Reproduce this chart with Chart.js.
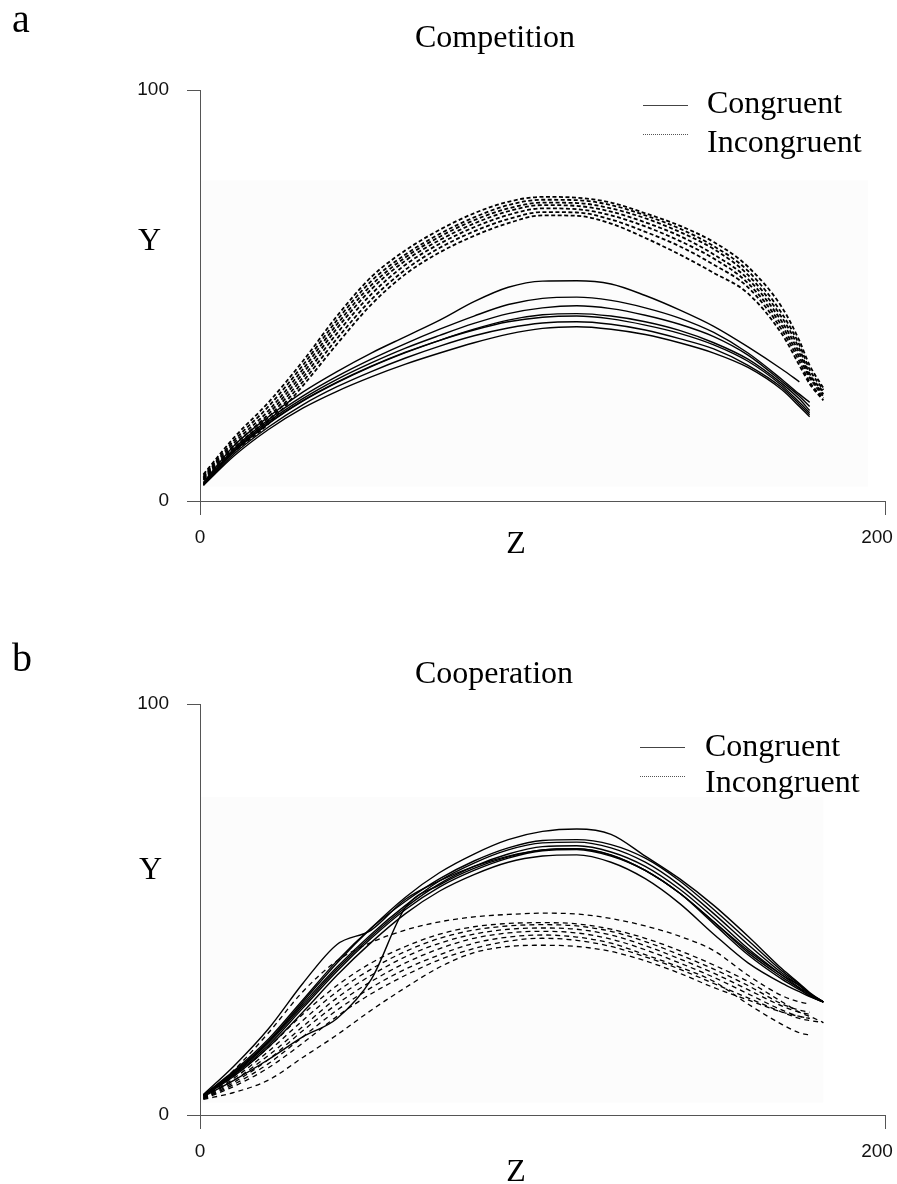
<!DOCTYPE html>
<html><head><meta charset="utf-8">
<script src="https://cdn.jsdelivr.net/npm/chart.js@4.4.1/dist/chart.umd.min.js"></script>
<style>
html,body{margin:0;padding:0;background:#fff;width:897px;height:1184px;overflow:hidden;position:relative}
canvas{position:absolute;left:0}
.t{position:absolute;font-family:"Liberation Serif","Times New Roman",serif;color:#000;line-height:1;white-space:nowrap}
.c{transform:translateX(-50%)}
.ls{position:absolute;height:0;width:45px;border-top:1px solid #444}
.ld{position:absolute;height:0;width:45px;border-top:1px dotted #555}
</style></head><body>
<canvas id="c1" width="897" height="570" style="top:0"></canvas>
<canvas id="c2" width="897" height="570" style="top:614px"></canvas>

<div class="t" style="left:12px;top:-1px;font-size:40px">a</div>
<div class="t c" style="left:495px;top:20px;font-size:32px">Competition</div>
<div class="t" style="left:138px;top:223px;font-size:32px">Y</div>
<div class="t c" style="left:516px;top:526px;font-size:32px">Z</div>
<div class="ls" style="left:643px;top:105px"></div>
<div class="ld" style="left:643px;top:134px"></div>
<div class="t" style="left:707px;top:86px;font-size:32px">Congruent</div>
<div class="t" style="left:707px;top:125px;font-size:32px">Incongruent</div>

<div class="t" style="left:12px;top:638px;font-size:40px">b</div>
<div class="t c" style="left:494px;top:656px;font-size:32px">Cooperation</div>
<div class="t" style="left:139px;top:852px;font-size:32px">Y</div>
<div class="t c" style="left:516px;top:1154px;font-size:32px">Z</div>
<div class="ls" style="left:640px;top:747px"></div>
<div class="ld" style="left:640px;top:776px"></div>
<div class="t" style="left:705px;top:729px;font-size:32px">Congruent</div>
<div class="t" style="left:705px;top:765px;font-size:32px">Incongruent</div>

<script>
// ---- data ----
const zValues = [1, 10, 20, 30, 40, 50, 60, 70, 80, 90, 100, 110, 120, 130, 140, 150, 160, 170, 175, 178, 182];
const xTickValues = [0, 200];
const xTickLabels = ['0', '200'];
const yTickValues = [0, 100];
const yTickLabels = ['0', '100'];

const competitionCongruent = [
  [4.5, 13.5, 20.5, 26.5, 31.5, 36, 40, 44, 48.5, 52, 53.5, 53.6, 52.8, 50, 46.5, 42.5, 37.5, 32, 29, null, null],
  [4.3, 12.8, 19.8, 25.5, 30.3, 34.5, 38.3, 41.8, 45, 47.8, 49.3, 49.6, 48.8, 47, 44.5, 41, 36, 29.5, 26, 24, null],
  [4.2, 12.4, 19.3, 24.9, 29.6, 33.6, 37.2, 40.3, 43.2, 45.6, 47, 47.5, 46.8, 45.2, 43, 40, 35.5, 29, 25.5, 23, null],
  [4, 12, 18.8, 24.3, 28.8, 32.7, 36.1, 39.1, 41.8, 44, 45.3, 45.6, 45, 43.6, 41.5, 38.5, 34.5, 28.5, 24.8, 22, null],
  [4.1, 12.1, 18.9, 24.4, 28.9, 32.8, 36.2, 39.1, 41.6, 43.6, 44.7, 45, 44.3, 42.8, 40.8, 38, 34, 28, 24, 21.5, null],
  [3.9, 11.5, 18, 23.4, 27.8, 31.5, 34.8, 37.7, 40.2, 42.1, 43.3, 43.6, 43, 41.6, 39.5, 37, 33, 27.5, 23.5, 21, null],
  [3.8, 11, 17.4, 22.6, 26.7, 30.2, 33.3, 36, 38.5, 40.6, 42, 42.4, 41.8, 40.5, 38.5, 36, 32.5, 27, 23, 20.5, null]
];
const competitionIncongruent = [
  [6.5, 15.5, 24, 34, 45, 54.5, 61, 66, 70, 72.8, 74, 73.8, 72.6, 70, 67, 63, 57, 47, 39, 33, 27.5],
  [6.2, 14.8, 23, 33, 44, 53.5, 60, 65, 69, 72, 73.3, 73.2, 72, 69.5, 66.3, 62, 56, 45.5, 38, 32, 27],
  [5.9, 14.2, 22, 32, 43, 52.5, 59.3, 64.3, 68.3, 71.2, 72.6, 72.5, 71.2, 68.8, 65.5, 61.3, 55, 44.5, 37, 31, 26.5],
  [5.7, 13.6, 21.2, 31, 42, 51.5, 58.5, 63.5, 67.5, 70.5, 72, 71.8, 70.4, 67.8, 64.5, 60, 54, 43.5, 36, 30.5, 26],
  [5.5, 13, 20.4, 30, 40.8, 50.3, 57.5, 62.6, 66.6, 69.6, 71.2, 71, 69.5, 66.8, 63.3, 59, 53, 42.5, 35, 30, 25.5],
  [5.3, 12.5, 19.6, 29, 39.5, 49, 56.3, 61.6, 65.6, 68.6, 70.3, 70.2, 68.5, 65.5, 62, 57.5, 52, 41.5, 34, 29, 25],
  [5.1, 12, 18.8, 28, 38.2, 47.8, 55.2, 60.5, 64.5, 67.6, 69.5, 69.4, 67.5, 64, 60, 55.5, 50.5, 40.5, 33, 28.5, 24.5]
];
const cooperationCongruent = [
  [4.8, 10.5, 18, 27.5, 37, 45.5, 53, 59, 63.5, 67, 69, 69.6, 68.3, 63, 57.5, 51, 43.5, 35.5, 32, 29.8, 27.5],
  [5, 12, 21, 32, 41.5, 45, 52.5, 57, 60.5, 63, 64.5, 64.8, 63.2, 59.5, 54, 47, 40, 34, 31.5, 29.5, 27.5],
  [4.8, 10.2, 17.8, 27, 36, 44, 51, 57, 61.3, 64.5, 66.2, 66.4, 65, 61.5, 56, 49, 41.5, 34.5, 31.5, 29.5, 27.5],
  [4.7, 10, 17.5, 26.5, 35.5, 43.5, 50.5, 56.3, 60.5, 63.5, 65.3, 65.5, 64, 60.5, 55, 48, 40.5, 34, 31, 29.3, 27.5],
  [4.7, 9.8, 17, 26, 35, 43, 50, 55.5, 59.5, 62.5, 64.3, 64.6, 63, 59.5, 54, 47, 39.5, 33.5, 30.8, 29, 27.5],
  [4.6, 9.5, 16.5, 25, 34, 42, 49, 54.5, 58.5, 61.5, 63, 63.3, 61.5, 57.5, 51.5, 44, 37, 32, 30, 28.8, 27.5],
  [4.5, 8.5, 13.5, 19, 23.5, 33, 50.5, 56, 60, 62.8, 64.5, 64.8, 63.3, 59.5, 54, 46.5, 39, 33, 30.5, 29, 27.5],
  [4.9, 10.8, 18.5, 28, 37.5, 45.5, 52, 57.5, 61.8, 65, 66.8, 67, 65.8, 62.5, 57, 50, 42.5, 35, 31.8, 29.6, 27.5]
];
const cooperationIncongruent = [
  [4.5, 11, 20, 30, 37.5, 42, 45, 47, 48.2, 48.8, 49.1, 48.9, 47.8, 46, 43.5, 40, 34, 29, 27.5, 27, null],
  [4.3, 9.5, 16.5, 24.5, 31.5, 37, 41, 44, 45.8, 46.6, 46.8, 46.5, 45.2, 43, 40, 36.5, 32.5, 27.5, 25, 24, 22.5],
  [4.2, 9, 15.5, 23, 30, 35.5, 39.8, 43, 45, 46, 46.3, 46, 44.7, 42.2, 39, 35.5, 31.5, 27, 25.5, 25, null],
  [4.1, 8.5, 14.5, 21.5, 28.5, 34, 38.5, 41.8, 44, 45.2, 45.5, 45.2, 43.8, 41.2, 38, 34.5, 30.5, 26.5, 25, 24.5, null],
  [4, 8, 13.5, 20.5, 27, 32.5, 37, 40.5, 43, 44.3, 44.7, 44.3, 42.8, 40.2, 37, 33.5, 29.5, 25.5, 24, 23.5, null],
  [4, 7.5, 12.5, 19, 25.5, 31, 35.5, 39, 41.8, 43.3, 43.8, 43.3, 41.8, 39, 36, 32.5, 27, 22, 20, 19.5, null],
  [3.9, 7, 11.5, 17.5, 24, 29.5, 34, 37.8, 40.5, 42.3, 43, 42.5, 41, 38.5, 35.5, 32, 28.5, 25, 23.5, 23, 22.5],
  [3.8, 5.5, 8.5, 14, 19.5, 25.5, 31, 36, 39.5, 41, 41.3, 41, 39.8, 37.5, 34.5, 31, 28, 25, 24, 23.5, null]
];

// faint scanned background patch, in data units
const competitionPatch = {x0: 0.3, x1: 195, y0: 3.5, y1: 78};
const cooperationPatch = {x0: 0.3, x1: 182, y0: 3, y1: 77.4};

// ---- rendering ----
function toPoints(vals) {
  const pts = [];
  vals.forEach((v, i) => { if (v !== null) pts.push({x: zValues[i], y: v}); });
  return pts;
}

const patchPlugin = {
  id: 'patch',
  beforeDatasetsDraw(chart, args, opts) {
    if (!opts || opts.x0 === undefined) return;
    const xs = chart.scales.x, ys = chart.scales.y, ctx = chart.ctx;
    const l = xs.getPixelForValue(opts.x0), r = xs.getPixelForValue(opts.x1);
    const t = ys.getPixelForValue(opts.y1), b = ys.getPixelForValue(opts.y0);
    ctx.save(); ctx.fillStyle = '#fcfcfc'; ctx.fillRect(l, t, r - l, b - t); ctx.restore();
  }
};

const tickFont = {family: '"Liberation Sans", Arial, sans-serif', size: 19};

function makeChart(id, congruent, incongruent, dash, dashWidth, patch) {
  const datasets = [];
  congruent.forEach((vals, i) => datasets.push({
    label: 'Congruent ' + (i + 1), data: toPoints(vals), showLine: true,
    borderColor: '#000', borderWidth: 1.4, pointRadius: 0, cubicInterpolationMode: 'monotone', fill: false
  }));
  incongruent.forEach((vals, i) => datasets.push({
    label: 'Incongruent ' + (i + 1), data: toPoints(vals), showLine: true,
    borderColor: '#000', borderWidth: dashWidth, borderDash: dash, pointRadius: 0, cubicInterpolationMode: 'monotone', fill: false
  }));
  return new Chart(document.getElementById(id), {
    type: 'scatter',
    data: {datasets},
    plugins: [patchPlugin],
    options: {
      responsive: false, animation: false, devicePixelRatio: 1,
      layout: {padding: {left: 0, top: 90, right: 12, bottom: 19}},
      plugins: {legend: {display: false}, tooltip: {enabled: false}, patch: patch},
      scales: {
        x: {
          type: 'linear', min: 0, max: 200,
          afterBuildTicks: s => { s.ticks = xTickValues.map(v => ({value: v})); },
          afterFit: s => { s.height = 50; s.paddingLeft = 0; s.paddingRight = 0; },
          grid: {display: true, drawOnChartArea: false, drawTicks: true, tickLength: 14, color: '#555', lineWidth: 1},
          border: {display: true, color: '#555', width: 1},
          ticks: {color: '#111', font: tickFont, padding: 11, maxRotation: 0, autoSkip: false,
            callback: (v, i) => xTickLabels[i] + (i === xTickLabels.length - 1 ? '   ' : '')}
        },
        y: {
          type: 'linear', min: 0, max: 100,
          afterBuildTicks: s => { s.ticks = yTickValues.map(v => ({value: v})); },
          afterFit: s => { s.width = 200; s.paddingTop = 0; s.paddingBottom = 0; },
          grid: {display: true, drawOnChartArea: false, drawTicks: true, tickLength: 13, color: '#555', lineWidth: 1},
          border: {display: true, color: '#555', width: 1},
          ticks: {color: '#111', font: tickFont, padding: 18, autoSkip: false,
            callback: (v, i) => yTickLabels[i]}
        }
      }
    }
  });
}

makeChart('c1', competitionCongruent, competitionIncongruent, [4, 2.5], 1.8, competitionPatch);
makeChart('c2', cooperationCongruent, cooperationIncongruent, [5, 4], 1.3, cooperationPatch);
</script>
</body></html>
